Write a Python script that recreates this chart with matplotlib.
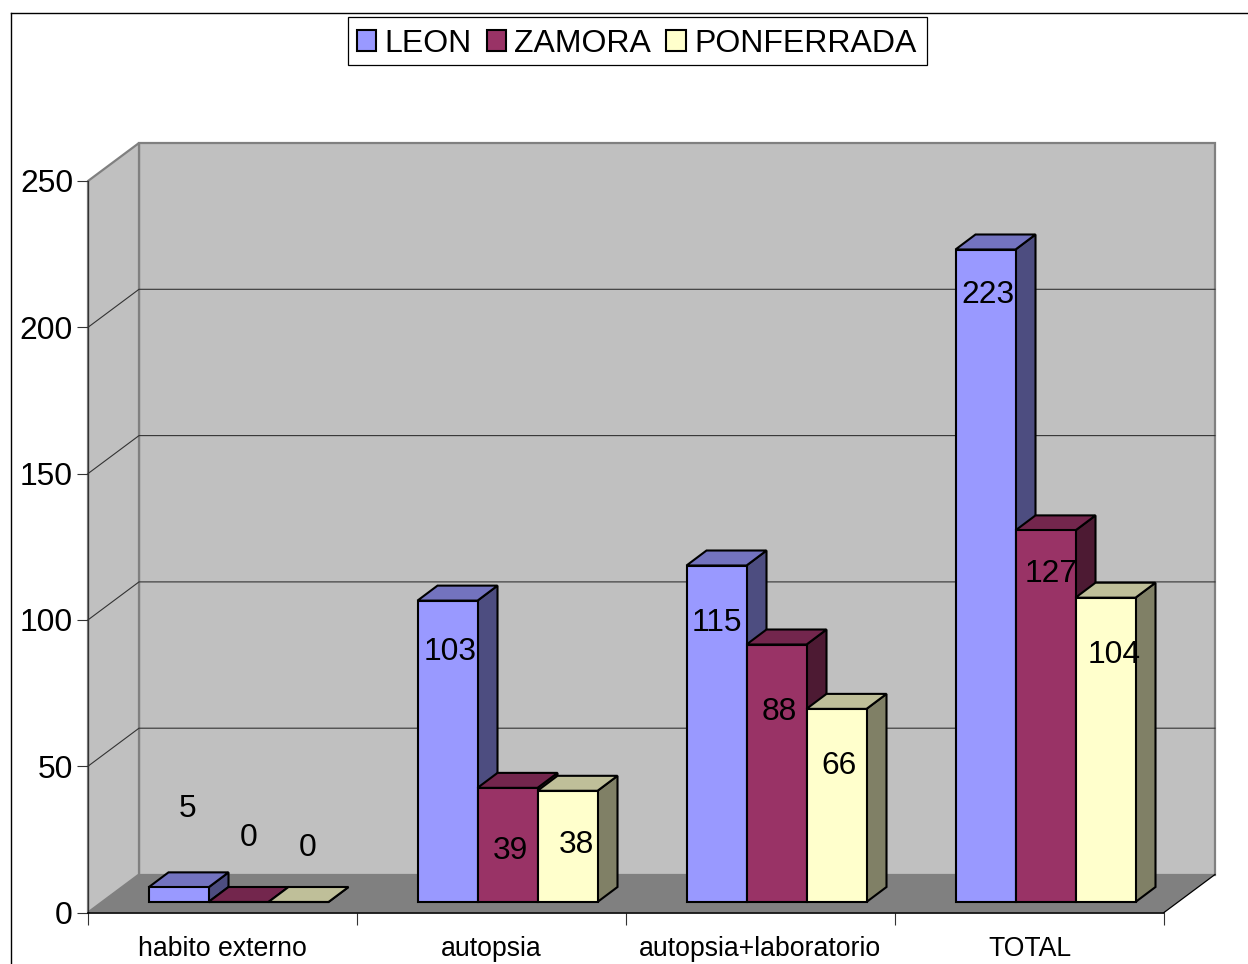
import matplotlib
matplotlib.use("Agg")
import matplotlib.pyplot as plt
from matplotlib.patches import Polygon, Patch, Rectangle
from matplotlib.lines import Line2D

plt.rcParams['font.family'] = ['Liberation Sans', 'DejaVu Sans']

categories = ["habito externo", "autopsia", "autopsia+laboratorio", "TOTAL"]
series_names = ["LEON", "ZAMORA", "PONFERRADA"]
leon = [5, 103, 115, 223]
zamora = [0, 39, 88, 127]
ponferrada = [0, 38, 66, 104]
y_ticks = [0, 50, 100, 150, 200, 250]

front_colors = ["#9999FF", "#993366", "#FFFFCC"]
top_colors = ["#7373BF", "#73264D", "#BFBF99"]
side_colors = ["#4D4D80", "#4D1A33", "#808066"]

# label offsets from the top-centre of each bar, in pixels (right, down)
label_dx = [[9, 10, 9], [3, 3, 9], [0, 3, 2], [2, 6, 9]]
label_dy = [[-82, -68, -58], [48, 60, 51], [54, 64, 53.5], [42, 40, 54]]

W, H = 1248, 964
fig = plt.figure(figsize=(W / 100, H / 100), dpi=100, facecolor="white")
L, R, T, B = 88.0, 1164.0, 181.0, 912.5
ax = fig.add_axes([L / W, 1 - B / H, (R - L) / W, (B - T) / H])
ax.set_xlim(0, 4)
ax.set_ylim(0, 250)
ax.patch.set_visible(False)

px_x = 4 / (R - L)
px_y = 250 / (B - T)
DX, DY = 51 * px_x, 38 * px_y         # depth of the chart box
bdx, bdy = 20 * px_x, 15 * px_y       # depth of a bar
bar_w = 60 * px_x
bar_start = 60.5 * px_x
base = 10.5 * px_y


def poly(pts, fc, ec, lw, z):
    ax.add_patch(Polygon(pts, closed=True, facecolor=fc, edgecolor=ec, linewidth=lw,
                         zorder=z, clip_on=False, joinstyle="miter"))


# walls and floor
poly([(DX, DY), (4 + DX, DY), (4 + DX, 250 + DY), (DX, 250 + DY)], "#C0C0C0", "#808080", 1.6, 1)
poly([(0, 0), (DX, DY), (DX, 250 + DY), (0, 250)], "#C0C0C0", "#808080", 1.6, 1)
poly([(0, 0), (4, 0), (4 + DX, DY), (DX, DY)], "#808080", "none", 0, 1.5)
ax.plot([4, 4 + DX], [0, DY], color="black", lw=0.9, zorder=2, clip_on=False)

# gridlines
for v in y_ticks[1:-1]:
    ax.plot([0, DX, 4 + DX], [v, v + DY, v + DY], color="#333333", lw=0.8, zorder=2, clip_on=False)

# bars
for i in range(len(categories)):
    for j, vals in enumerate([leon, zamora, ponferrada]):
        v = vals[i]
        x0 = i + bar_start + j * bar_w
        x1 = x0 + bar_w
        y0, y1 = base, base + v
        z = 3 + j * 0.1
        poly([(x1, y0), (x1 + bdx, y0 + bdy), (x1 + bdx, y1 + bdy), (x1, y1)], side_colors[j], "black", 1.5, z)
        poly([(x0, y1), (x1, y1), (x1 + bdx, y1 + bdy), (x0 + bdx, y1 + bdy)], top_colors[j], "black", 1.5, z)
        poly([(x0, y0), (x1, y0), (x1, y1), (x0, y1)], front_colors[j], "black", 1.5, z)
        ax.annotate(str(v), xy=((x0 + x1) / 2, y1),
                    xytext=(label_dx[i][j] * 0.72, -label_dy[i][j] * 0.72),
                    textcoords="offset points", ha="center", va="center_baseline",
                    fontsize=22.9, color="black", zorder=6, annotation_clip=False)

# axes, ticks
for s in ("top", "right"):
    ax.spines[s].set_visible(False)
ax.spines["left"].set_color("#333333")
ax.spines["left"].set_linewidth(0.9)
ax.spines["bottom"].set_color("black")
ax.spines["bottom"].set_linewidth(1.2)
ax.spines["left"].set_zorder(2.5)
ax.spines["bottom"].set_zorder(2.5)

ax.set_yticks(y_ticks)
ax.tick_params(axis="y", length=7.9, width=0.8, color="#333333", pad=2.9, labelsize=22.9)
ax.set_xticks(range(5))
ax.set_xticklabels([])
ax.set_xticks([i + 0.5 for i in range(4)], categories, minor=True)
ax.tick_params(axis="x", which="major", length=8.6, width=0.8, color="#333333")
ax.tick_params(axis="x", which="minor", length=0, pad=17.2, labelsize=19.2)

# legend: box drawn separately so its contents sit centred as in the reference
fig.add_artist(Rectangle((348 / W, 1 - 64.5 / H), 578.5 / W, 47.5 / H, transform=fig.transFigure,
                         facecolor="white", edgecolor="black", linewidth=0.9, zorder=5))
handles = [Patch(facecolor=c, edgecolor="black", linewidth=1.5) for c in front_colors]
leg = fig.legend(handles, series_names, loc="center", bbox_to_anchor=(636.5 / W, 1 - 43.5 / H),
                 ncol=3, fontsize=23, frameon=False,
                 handlelength=0.62, handleheight=0.62, handletextpad=0.25,
                 columnspacing=0.47, borderpad=0.35, borderaxespad=0)
leg.set_zorder(6)

# outer chart frame (cropped on the right and at the bottom)
fig.add_artist(Line2D([11 / W, 11 / W], [0, 1 - 13 / H], color="black", lw=1.0))
fig.add_artist(Line2D([11 / W, 1], [1 - 13 / H, 1 - 13 / H], color="black", lw=1.0))

fig.savefig("out.png", dpi=100, facecolor="white")
